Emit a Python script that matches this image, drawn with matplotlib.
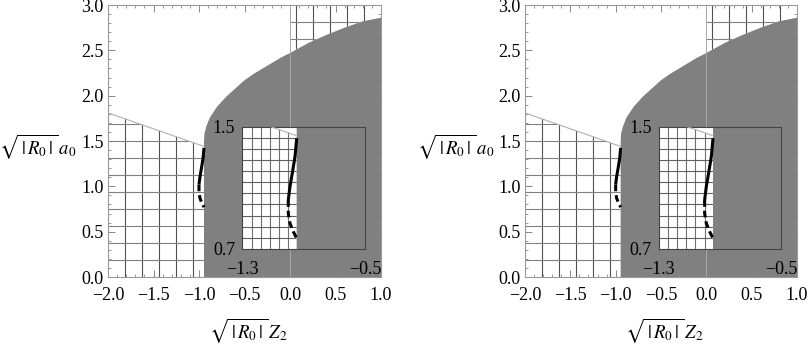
import numpy as np
import matplotlib
matplotlib.use('Agg')
import matplotlib.pyplot as plt
from matplotlib.patches import Polygon
from matplotlib.ticker import MultipleLocator, FuncFormatter

plt.rcParams['font.family'] = ['Liberation Serif', 'DejaVu Serif']
plt.rcParams['mathtext.fontset'] = 'stix'

# ---- data ----
# upper boundary of the shaded region
curve_x = [-0.945, -0.94, -0.92, -0.88, -0.80, -0.70, -0.60, -0.50, -0.40,
           -0.30, -0.20, -0.10, 0.00, 0.20, 0.40, 0.60, 0.80, 1.00]
curve_y = [1.50, 1.58, 1.66, 1.76, 1.88, 1.99, 2.08, 2.17, 2.24,
           2.30, 2.36, 2.42, 2.47, 2.58, 2.67, 2.75, 2.82, 2.86]
edge_x = -0.945            # vertical left edge of the shaded region
slope_x = [-2.0, -0.945]   # thin boundary of the meshed region
slope_y = [1.81, 1.44]
solid_x = [-0.945, -0.956, -0.974, -0.989, -1.0]
solid_y = [1.424, 1.304, 1.195, 1.108, 1.02]
dash_x = [-1.0, -1.0, -0.989, -0.967, -0.945]
dash_y = [1.02, 0.934, 0.868, 0.813, 0.77]

x_ticks = [-2.0, -1.5, -1.0, -0.5, 0.0, 0.5, 1.0]
y_ticks = [0.0, 0.5, 1.0, 1.5, 2.0, 2.5, 3.0]
inset_xticks = [-1.3, -0.5]
inset_yticks = [0.7, 1.5]

main_xlim = (-2.0, 1.0)
main_ylim = (0.0, 3.0)
inset_xlim = (-1.3, -0.5)
inset_ylim = (0.7, 1.5)

# mesh line positions (regular mesh of the region plot)
main_mesh_x = [-2.0 + 0.1875 * k for k in range(1, 16)]
main_mesh_y = [0.1875 * k for k in range(1, 16)]
inset_mesh_x = [-1.3 + 0.06 * k for k in range(1, 14)]
inset_mesh_y = [0.7 + 0.8 * k / 11 for k in range(1, 11)]

GRAY = '#808080'
fmt = FuncFormatter(lambda v, p: ('%.1f' % v).replace('-', '\u2212'))


def draw_content(ax, mesh_x, mesh_y, vcol, hcol, main=True):
    px = [edge_x, edge_x] + curve_x + [curve_x[-1]]
    py = [0.0, curve_y[0]] + curve_y + [0.0]
    ax.fill(px, py, color=GRAY, lw=0, zorder=1)

    poly = Polygon([(slope_x[0], 0), (edge_x, 0), (edge_x, slope_y[1]),
                    (slope_x[0], slope_y[0])], closed=True,
                   transform=ax.transData)
    ylo, yhi = (main_ylim if main else inset_ylim)
    xlo, xhi = (main_xlim if main else inset_xlim)
    vl = ax.vlines(mesh_x, ylo - 1, yhi + 1, colors=vcol, lw=0.8, zorder=2)
    vl.set_clip_path(poly)
    hl = ax.hlines(mesh_y, xlo - 1, xhi + 1, colors=hcol, lw=0.8, zorder=2)
    hl.set_clip_path(poly)

    if main:
        tx = [c for c in curve_x if c >= 0]
        ty = [curve_y[i] for i, c in enumerate(curve_x) if c >= 0]
        poly2 = Polygon(list(zip(tx, ty)) + [(1.0, 3.0), (0.0, 3.0)],
                        closed=True, transform=ax.transData)
        vl2 = ax.vlines(mesh_x, ylo, yhi + 1, colors=vcol, lw=0.8, zorder=2)
        vl2.set_clip_path(poly2)
        hl2 = ax.hlines(mesh_y, xlo, xhi + 1, colors=hcol, lw=0.8, zorder=2)
        hl2.set_clip_path(poly2)
        ax.axvline(0.0, color='#a8a8a8', lw=0.7, zorder=2.5)

    ax.plot(slope_x, slope_y, color='#b0b0b0', lw=0.8, zorder=3)
    ax.plot(solid_x, solid_y, color='black', lw=2.2, zorder=4,
            solid_capstyle='butt')
    ax.plot(dash_x, dash_y, color='black', lw=2.2, zorder=4,
            dashes=(2.2, 1.3), dash_capstyle='butt')


fig = plt.figure(figsize=(8.09, 3.45), dpi=100)
panels = [(108 / 809, 273 / 809), (525 / 809, 272 / 809)]
for left, width in panels:
    ax = fig.add_axes([left, 68 / 345, width, 272 / 345])
    draw_content(ax, main_mesh_x, main_mesh_y, '#505050', '#808080', main=True)
    ax.set_xlim(*main_xlim)
    ax.set_ylim(*main_ylim)
    ax.set_xticks(x_ticks)
    ax.set_yticks(y_ticks)
    ax.xaxis.set_major_formatter(fmt)
    ax.yaxis.set_major_formatter(fmt)
    ax.xaxis.set_minor_locator(MultipleLocator(0.1))
    ax.yaxis.set_minor_locator(MultipleLocator(0.1))
    ax.tick_params(which='both', direction='in', top=True, right=True,
                   colors='#888888', labelcolor='black', labelsize=13)
    ax.tick_params(which='major', length=5, width=0.7)
    ax.tick_params(which='minor', length=2.5, width=0.6)
    ax.tick_params(axis='x', pad=7)
    ax.tick_params(axis='y', pad=3)
    for s in ax.spines.values():
        s.set_color('#999999')
        s.set_linewidth(0.8)

    ax.text(-0.398, (277 - 147) / 272, r'$\sqrt{\,|\,R_0\,|\,}\,a_0$',
            transform=ax.transAxes, ha='left', va='center', fontsize=13.5)
    ax.text(0.513, -0.195, r'$\sqrt{\,|\,R_0\,|\,}\,Z_2$',
            transform=ax.transAxes, ha='center', va='center', fontsize=13.5)

    axi = ax.inset_axes([0.492, 0.103, 0.449, 0.45])
    axi.set_facecolor('white')
    draw_content(axi, inset_mesh_x, inset_mesh_y, '#707070', '#606060', main=False)
    axi.set_xlim(*inset_xlim)
    axi.set_ylim(*inset_ylim)
    axi.set_xticks(inset_xticks)
    axi.set_yticks(inset_yticks)
    axi.xaxis.set_major_formatter(fmt)
    axi.yaxis.set_major_formatter(fmt)
    axi.tick_params(length=0, labelsize=13)
    axi.tick_params(axis='x', pad=9)
    axi.tick_params(axis='y', pad=5)
    for s in axi.spines.values():
        s.set_color('#444444')
        s.set_linewidth(0.8)

fig.savefig('out.png', dpi=100)
